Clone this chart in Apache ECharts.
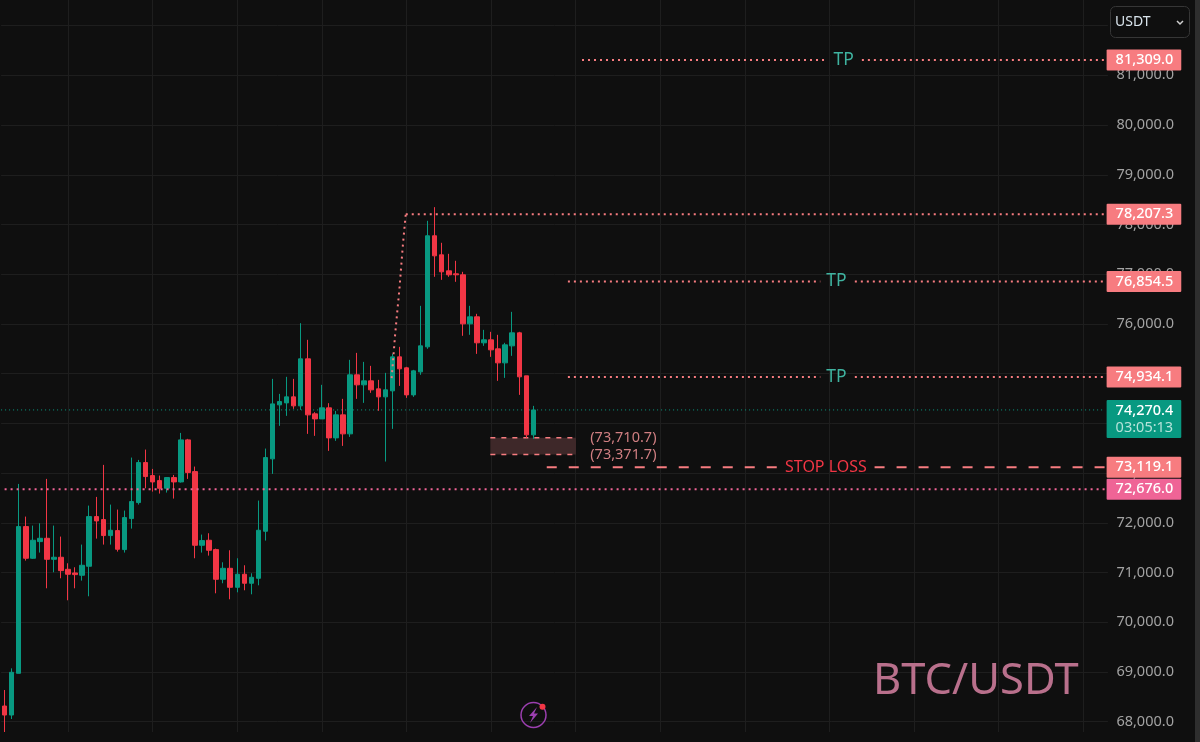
<!DOCTYPE html>
<html><head><meta charset="utf-8">
<style>html,body{margin:0;padding:0;background:#0f0f0f}#c{width:1200px;height:742px}</style>
<script src="https://cdn.jsdelivr.net/npm/echarts@6/dist/echarts.min.js"></script>
</head><body><div id="c"></div>
<script>
// Candle data
const opens = [68315,68134,68973,71924,71287,71622,71689,71266,71307,71065,70991,70945,71126,72125,72065,71743,71843,71461,72085,72407,73212,72950,72849,72695,72910,72822,73668,73030,71548,71649,71461,70864,71085,70703,70965,70784,70884,71830,73286,74372,74412,74533,74352,75298,74191,74090,74312,73708,74171,73789,74976,74775,74855,74694,74533,74654,75338,75117,74573,75036,75539,77773,77390,77068,77008,76988,76002,76143,75620,75680,75499,75217,75559,75821,74956,73769];
const closes = [68134,68993,71924,71287,71649,71689,71266,71307,71038,70965,70958,71146,72125,72038,71743,71850,71468,72105,72427,73212,72930,72822,72695,72910,72822,73668,73010,71548,71642,71448,70864,71085,70703,70965,70784,70904,71850,73312,74392,74439,74533,74352,75298,74171,74090,74312,73708,74171,73789,74976,74775,74855,74674,74533,74674,75338,75097,74573,75056,75559,77773,77370,77048,76988,76988,76002,76143,75620,75680,75479,75217,75579,75821,74936,73769,74270.4];
const lows = [67732,68054,68973,71240,71273,71401,70683,71005,70884,70442,70683,70837,70522,71682,71562,71562,71421,71401,71883,72366,72695,72628,72588,72608,72487,72809,72883,71287,71401,71340,70582,70784,70462,70602,70643,70562,70743,71642,72984,73950,74151,74292,74272,73789,73749,74090,73447,73648,73547,73728,74493,74412,74614,74252,73232,73889,74754,74513,74533,74976,75499,76948,76887,76948,76847,75761,75781,75398,75559,75338,74855,74915,75358,74573,73708,73688];
const highs = [68637,69073,72782,72125,71944,71991,72883,71944,71723,71186,71106,71562,72346,72521,73165,72366,72266,72246,73312,73265,73473,73084,72950,72916,72963,73808,73688,73131,71763,71790,71481,71206,71448,71287,71146,70985,72447,73493,74895,74593,74936,74895,76015,75680,74225,74775,74406,74251,74493,75278,75418,75237,75157,74875,75016,75398,75539,75137,75076,76364,78074,78349,77632,77410,77270,77048,76364,76203,75881,75841,75781,75620,76243,75841,74956,74352];

// Price levels
const tpTop = 81309.0, tpMid = 76854.5, tpLow = 74934.1;
const peak = 78207.3, lastPrice = 74270.4, stopLoss = 73119.1, support = 72676.0;
const zoneHigh = 73710.7, zoneLow = 73371.7;
const countdown = '03:05:13';
// Where the drawings start/stop, in bar numbers
const rightEnd = 156.1;
const tpTopSpans = [[81.9,116.4],[121.6,rightEnd]];
const tpMidSpans = [[79.9,115.7],[120.6,rightEnd]];
const tpLowSpans = [[79.9,115.7],[120.6,rightEnd]];
const stopSpans = [[76.9,109.7],[123.4,rightEnd]];
const peakRiseX = [54.9,55.4,56,56.5,56.9];
const peakRiseY = [74909,75800,76700,77600,78207.3];
const zoneX = [68.9,81.05];
const barSlots = 157;

const BG='#0f0f0f', UP='#089981', DOWN='#f23645', SALMON='#f77c80', PINK='#ef6496', GRID='#1e1e1e';
const FONT='"Noto Sans", sans-serif';
const categories = Array.from({length:barSlots},(_, i)=>String(i));
const candleData = opens.map((o,i)=>[o,closes[i],lows[i],highs[i]]);
const fmt = v => v.toLocaleString('en-US',{minimumFractionDigits:1,maximumFractionDigits:1});

function segs(spans, price, color, type, width, z){
  return spans.map(s=>({type:'line',xAxisIndex:1,yAxisIndex:0,silent:true,symbol:'none',z:z||3,animation:false,
    data:[[s[0],price],[s[1],price]],lineStyle:{color,type,width:width||2,cap:'butt'}}));
}
function note(x, price, text, color, size, pos){
  return {type:'scatter',xAxisIndex:1,yAxisIndex:0,silent:true,symbolSize:1,z:5,animation:false,
    itemStyle:{color:'transparent',opacity:1},data:[[x,price]],clip:false,
    label:{show:true,position:pos||'inside',distance:0,formatter:text,color,fontSize:size,fontFamily:FONT}};
}
function tag(price, bg){
  return {type:'scatter',xAxisIndex:1,yAxisIndex:0,silent:true,symbolSize:1,z:6,animation:false,
    itemStyle:{color:'transparent',opacity:1},data:[[rightEnd,price]],clip:false,
    label:{show:true,position:'right',distance:0,offset:[1,0],formatter:fmt(price),color:'#ffffff',fontSize:14.5,fontWeight:500,
      fontFamily:FONT,backgroundColor:bg,padding:[3,8,3,9],borderRadius:1,lineHeight:15}};
}
const DOT=[2,4], DASH=[10,12];
const series = [
  {type:'candlestick',xAxisIndex:0,yAxisIndex:0,z:2,silent:true,animation:false,barWidth:5,clip:false,data:candleData,
   itemStyle:{color:UP,color0:DOWN,borderColor:UP,borderColor0:DOWN,borderWidth:1}},
  // zone
  {type:'line',xAxisIndex:1,yAxisIndex:0,silent:true,symbol:'none',z:1,animation:false,
   data:[[zoneX[0],zoneHigh],[zoneX[1],zoneHigh]],lineStyle:{color:SALMON,type:[5,6],width:1.5},
   markArea:{silent:true,itemStyle:{color:'#3e2829'},data:[[{xAxis:zoneX[0],yAxis:zoneHigh},{xAxis:zoneX[1],yAxis:zoneLow}]]}},
  {type:'line',xAxisIndex:1,yAxisIndex:0,silent:true,symbol:'none',z:1,animation:false,
   data:[[zoneX[0],zoneLow],[zoneX[1],zoneLow]],lineStyle:{color:SALMON,type:[5,6],width:1.5}},
  note(83,zoneHigh,'('+fmt(zoneHigh)+')','#d07f82',14.5,'right'),
  note(83,zoneLow,'('+fmt(zoneLow)+')','#d07f82',14.5,'right'),
  // current price
  ...segs([[-0.5,rightEnd]],lastPrice,UP,[1,3],1,1),
  // levels
  ...segs(tpTopSpans,tpTop,SALMON,DOT),
  ...segs(tpMidSpans,tpMid,SALMON,DOT),
  ...segs(tpLowSpans,tpLow,SALMON,DOT),
  ...segs(stopSpans,stopLoss,SALMON,DASH),
  ...segs([[0,rightEnd]],support,PINK,DOT),
  ...segs([[peakRiseX[4],rightEnd]],peak,SALMON,DOT),
  {type:'line',xAxisIndex:1,yAxisIndex:0,silent:true,symbol:'none',z:3,animation:false,
   data:peakRiseX.map((x,i)=>[x,peakRiseY[i]]),lineStyle:{color:SALMON,type:DOT,width:2,cap:'butt'}},
  note(119,tpTop,'TP','#3fb3a0',17.5),
  note(118,tpMid,'TP','#3fb3a0',17.5),
  note(118,tpLow,'TP','#3fb3a0',17.5),
  note(116.5,stopLoss,'STOP LOSS',DOWN,16),
  tag(tpTop,SALMON),tag(peak,SALMON),tag(tpMid,SALMON),tag(tpLow,SALMON),tag(stopLoss,SALMON),tag(support,PINK),
  {type:'scatter',xAxisIndex:1,yAxisIndex:0,silent:true,symbolSize:1,z:6,animation:false,clip:false,
   itemStyle:{color:'transparent',opacity:1},data:[[rightEnd,lastPrice]],
   label:{show:true,position:'right',distance:0,offset:[1,9],formatter:'{a|'+fmt(lastPrice)+'}\n{b|'+countdown+'}',
     backgroundColor:UP,padding:[2,8,2,9],borderRadius:1,
     rich:{a:{color:'#ffffff',fontSize:14.5,fontWeight:500,fontFamily:FONT,lineHeight:17},b:{color:'#b5e3da',fontSize:14.5,fontFamily:FONT,lineHeight:17}}}}
];

const chart = echarts.init(document.getElementById('c'),null,{renderer:'canvas',width:1200,height:742});
chart.setOption({
  backgroundColor:BG,animation:false,
  grid:{left:1.08,top:-24.1,width:1106.85,height:795.5,containLabel:false,outerBoundsMode:'none'},
  xAxis:[
    {type:'category',data:categories,boundaryGap:true,axisLine:{show:false},axisTick:{show:false},axisLabel:{show:false},
     splitLine:{show:true,alignWithLabel:true,interval:(i)=>(i-9)%12===0,lineStyle:{color:GRID,width:1}}},
    {type:'value',min:-0.5,max:barSlots-0.5,show:false,splitLine:{show:false}}
  ],
  yAxis:[{type:'value',position:'right',min:67000,max:83000,interval:1000,scale:true,
    axisLine:{show:false},axisTick:{show:false},
    splitLine:{show:true,lineStyle:{color:GRID,width:1}},
    axisLabel:{color:'#a3a3a3',fontSize:14.5,fontFamily:FONT,align:'right',margin:66,
      formatter:v=>(v>81000||v<68000)?'':fmt(v)}}],
  series,
  graphic:[
    {type:'rect',z:50,silent:true,shape:{x:0,y:732,width:1200,height:10},style:{fill:BG}},
    {type:'rect',z:60,silent:true,shape:{x:1195,y:0,width:5,height:742},style:{fill:'#2e2e2e'}},
    {type:'rect',z:60,silent:true,shape:{x:1110.5,y:6.5,width:79,height:31,r:5},style:{fill:BG,stroke:'#363636',lineWidth:1}},
    {type:'text',z:61,silent:true,x:1115,y:22,style:{text:'USDT',fill:'#d9e4ec',font:'14px "Noto Sans"',textVerticalAlign:'middle'}},
    {type:'polyline',z:61,silent:true,shape:{points:[[1177,21],[1180,24],[1183,21]]},style:{stroke:'#cfcfcf',lineWidth:1.5,fill:null}},
    {type:'text',z:40,silent:true,x:873,y:682,style:{text:'BTC/USDT',fill:'#b9708c',font:'43.5px "Noto Sans"',textVerticalAlign:'middle'}},
    {type:'circle',z:61,silent:true,shape:{cx:533.5,cy:715,r:12.5},style:{fill:null,stroke:'#9c3fb0',lineWidth:1.5}},
    {type:'polygon',z:61,silent:true,shape:{points:[[537,707],[529,716],[533,716],[530,723],[538,713.5],[534,713.5]]},style:{fill:'#9c3fb0'}},
    {type:'circle',z:62,silent:true,shape:{cx:542.5,cy:706.7,r:3},style:{fill:'#f23645'}}
  ]
});
</script></body></html>
